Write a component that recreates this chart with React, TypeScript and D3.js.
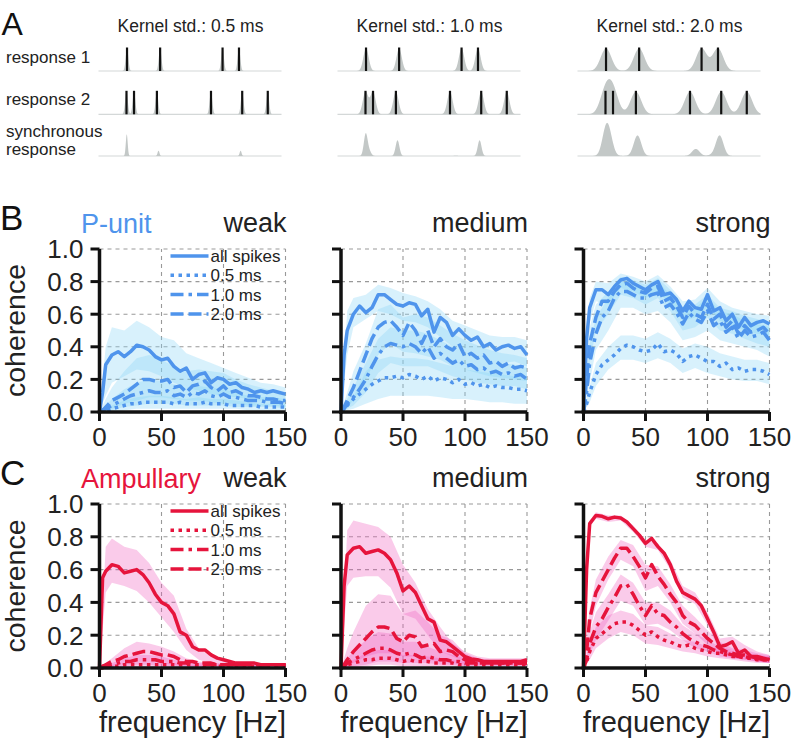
import React from 'react';
import * as d3 from 'd3';

// ---------- panel A: spike times (ms) ----------
const kernelStds = [0.5, 1.0, 2.0];
const spikes1 = [10.6, 22.9, 46.1, 52.2];
const spikes2 = [10.4, 13.2, 21.7, 41.8, 53.4, 62.9];
const rowLabels = [['response 1'], ['response 2'], ['synchronous', 'response']];

// ---------- coherence spectra ----------
const freqs = [0, 2.5, 5, 10, 15, 20, 25, 30, 35, 40, 45, 50, 55, 60, 65, 70, 75, 80, 85, 90, 95, 100, 105, 110, 115, 120, 125, 130, 135, 140, 145, 150];
const bandFreqs = [0, 5, 10, 20, 30, 40, 50, 60, 70, 80, 90, 100, 110, 120, 130, 140, 150];
const xTicks = [0, 50, 100, 150];
const yTicks = [0, 0.2, 0.4, 0.6, 0.8, 1.0];
const seriesLabels = ['all spikes', '0.5 ms', '1.0 ms', '2.0 ms'];
const strengths = ['weak', 'medium', 'strong'];

// P-unit, weak
const pWeakAll = [0, 0.12, 0.29, 0.35, 0.37, 0.34, 0.37, 0.41, 0.40, 0.38, 0.34, 0.32, 0.33, 0.28, 0.25, 0.27, 0.20, 0.23, 0.24, 0.18, 0.21, 0.20, 0.17, 0.18, 0.15, 0.14, 0.12, 0.13, 0.12, 0.13, 0.12, 0.11];
const pWeak05 = [0, 0.01, 0.01, 0.02, 0.03, 0.04, 0.05, 0.05, 0.06, 0.06, 0.06, 0.06, 0.06, 0.05, 0.06, 0.05, 0.05, 0.05, 0.06, 0.05, 0.05, 0.05, 0.04, 0.04, 0.04, 0.04, 0.04, 0.03, 0.03, 0.03, 0.03, 0.03];
const pWeak10 = [0, 0.01, 0.02, 0.04, 0.06, 0.08, 0.10, 0.11, 0.12, 0.13, 0.12, 0.12, 0.13, 0.10, 0.11, 0.09, 0.12, 0.11, 0.13, 0.10, 0.09, 0.11, 0.09, 0.09, 0.08, 0.07, 0.07, 0.07, 0.06, 0.06, 0.06, 0.05];
const pWeak20 = [0, 0.01, 0.03, 0.07, 0.09, 0.11, 0.14, 0.17, 0.20, 0.20, 0.19, 0.19, 0.20, 0.15, 0.16, 0.12, 0.16, 0.17, 0.19, 0.15, 0.13, 0.16, 0.12, 0.13, 0.11, 0.10, 0.10, 0.09, 0.08, 0.08, 0.07, 0.07];
const pWeakAllLo = [0, 0.10, 0.18, 0.22, 0.26, 0.25, 0.22, 0.18, 0.15, 0.13, 0.11, 0.10, 0.09, 0.08, 0.07, 0.07, 0.06];
const pWeakAllHi = [0, 0.40, 0.52, 0.50, 0.56, 0.52, 0.46, 0.44, 0.36, 0.33, 0.30, 0.27, 0.24, 0.21, 0.18, 0.17, 0.15];
const pWeak05Lo = [0, 0, 0, 0.01, 0.02, 0.02, 0.02, 0.02, 0.02, 0.02, 0.02, 0.02, 0.02, 0.01, 0.01, 0.01, 0.01];
const pWeak05Hi = [0, 0.02, 0.04, 0.07, 0.09, 0.10, 0.10, 0.09, 0.08, 0.09, 0.08, 0.08, 0.07, 0.06, 0.05, 0.05, 0.05];
const pWeak10Lo = [0, 0, 0.01, 0.03, 0.04, 0.05, 0.05, 0.05, 0.04, 0.04, 0.04, 0.04, 0.03, 0.03, 0.03, 0.03, 0.02];
const pWeak10Hi = [0, 0.04, 0.08, 0.14, 0.18, 0.20, 0.19, 0.17, 0.15, 0.16, 0.15, 0.14, 0.12, 0.10, 0.09, 0.09, 0.08];
const pWeak20Lo = [0, 0.01, 0.02, 0.05, 0.07, 0.09, 0.09, 0.08, 0.07, 0.07, 0.06, 0.05, 0.05, 0.04, 0.04, 0.04, 0.03];
const pWeak20Hi = [0, 0.08, 0.15, 0.25, 0.33, 0.35, 0.32, 0.28, 0.25, 0.26, 0.25, 0.24, 0.20, 0.17, 0.15, 0.13, 0.12];

// P-unit, medium
const pMedAll = [0, 0.35, 0.50, 0.60, 0.65, 0.61, 0.64, 0.72, 0.72, 0.69, 0.66, 0.65, 0.67, 0.66, 0.59, 0.63, 0.49, 0.58, 0.55, 0.47, 0.51, 0.47, 0.44, 0.46, 0.40, 0.42, 0.38, 0.40, 0.41, 0.39, 0.40, 0.35];
const pMed05 = [0, 0.02, 0.04, 0.08, 0.11, 0.14, 0.17, 0.19, 0.21, 0.21, 0.22, 0.21, 0.23, 0.22, 0.20, 0.22, 0.19, 0.21, 0.20, 0.18, 0.20, 0.17, 0.18, 0.16, 0.17, 0.15, 0.16, 0.15, 0.15, 0.14, 0.14, 0.13];
const pMed10 = [0, 0.02, 0.05, 0.09, 0.14, 0.20, 0.28, 0.35, 0.40, 0.42, 0.41, 0.40, 0.42, 0.40, 0.36, 0.40, 0.33, 0.36, 0.33, 0.30, 0.32, 0.28, 0.29, 0.26, 0.27, 0.24, 0.25, 0.23, 0.24, 0.22, 0.23, 0.20];
const pMed20 = [0, 0.03, 0.07, 0.15, 0.25, 0.35, 0.45, 0.52, 0.55, 0.56, 0.52, 0.47, 0.55, 0.50, 0.42, 0.50, 0.40, 0.45, 0.40, 0.38, 0.42, 0.34, 0.36, 0.33, 0.35, 0.30, 0.31, 0.28, 0.30, 0.27, 0.28, 0.27];
const pMedAllLo = [0, 0.35, 0.52, 0.57, 0.62, 0.60, 0.56, 0.55, 0.52, 0.46, 0.40, 0.37, 0.34, 0.32, 0.30, 0.31, 0.28];
const pMedAllHi = [0, 0.62, 0.70, 0.72, 0.78, 0.76, 0.73, 0.71, 0.68, 0.63, 0.56, 0.53, 0.50, 0.47, 0.46, 0.46, 0.44];
const pMed05Lo = [0, 0.01, 0.02, 0.05, 0.08, 0.10, 0.10, 0.10, 0.10, 0.09, 0.08, 0.08, 0.07, 0.06, 0.06, 0.05, 0.05];
const pMed05Hi = [0, 0.05, 0.09, 0.25, 0.32, 0.34, 0.33, 0.33, 0.32, 0.30, 0.28, 0.26, 0.25, 0.24, 0.23, 0.22, 0.21];
const pMed10Lo = [0, 0.02, 0.04, 0.12, 0.24, 0.30, 0.28, 0.28, 0.28, 0.25, 0.22, 0.20, 0.18, 0.17, 0.16, 0.16, 0.14];
const pMed10Hi = [0, 0.08, 0.15, 0.30, 0.45, 0.52, 0.50, 0.50, 0.48, 0.44, 0.40, 0.37, 0.34, 0.32, 0.30, 0.29, 0.27];
const pMed20Lo = [0, 0.03, 0.07, 0.20, 0.35, 0.42, 0.37, 0.36, 0.34, 0.32, 0.28, 0.26, 0.24, 0.22, 0.21, 0.20, 0.19];
const pMed20Hi = [0, 0.12, 0.25, 0.42, 0.63, 0.66, 0.58, 0.60, 0.58, 0.53, 0.48, 0.44, 0.41, 0.38, 0.36, 0.35, 0.33];

// P-unit, strong
const pStrAll = [0, 0.45, 0.64, 0.75, 0.75, 0.72, 0.77, 0.81, 0.82, 0.79, 0.77, 0.75, 0.78, 0.80, 0.72, 0.73, 0.69, 0.62, 0.68, 0.64, 0.63, 0.72, 0.62, 0.64, 0.56, 0.60, 0.52, 0.58, 0.53, 0.55, 0.56, 0.54];
const pStr05 = [0, 0.05, 0.12, 0.23, 0.29, 0.32, 0.35, 0.39, 0.41, 0.40, 0.38, 0.37, 0.38, 0.42, 0.37, 0.38, 0.36, 0.31, 0.34, 0.35, 0.33, 0.31, 0.31, 0.28, 0.30, 0.26, 0.27, 0.25, 0.26, 0.26, 0.25, 0.23];
const pStr10 = [0, 0.12, 0.30, 0.48, 0.58, 0.62, 0.70, 0.74, 0.74, 0.72, 0.70, 0.70, 0.72, 0.73, 0.64, 0.66, 0.61, 0.54, 0.61, 0.57, 0.55, 0.62, 0.53, 0.56, 0.49, 0.52, 0.45, 0.50, 0.46, 0.47, 0.49, 0.44];
const pStr20 = [0, 0.20, 0.42, 0.58, 0.68, 0.68, 0.74, 0.78, 0.79, 0.76, 0.74, 0.73, 0.76, 0.77, 0.68, 0.70, 0.65, 0.58, 0.65, 0.60, 0.58, 0.66, 0.57, 0.60, 0.52, 0.56, 0.48, 0.53, 0.49, 0.50, 0.52, 0.48];
const pStrAllLo = [0, 0.55, 0.68, 0.66, 0.76, 0.74, 0.70, 0.74, 0.66, 0.56, 0.58, 0.64, 0.56, 0.53, 0.50, 0.48, 0.47];
const pStrAllHi = [0, 0.70, 0.80, 0.79, 0.85, 0.83, 0.80, 0.84, 0.77, 0.68, 0.69, 0.76, 0.68, 0.64, 0.62, 0.60, 0.59];
const pStr05Lo = [0, 0.06, 0.16, 0.26, 0.32, 0.32, 0.30, 0.33, 0.30, 0.24, 0.27, 0.24, 0.22, 0.20, 0.19, 0.19, 0.17];
const pStr05Hi = [0, 0.16, 0.30, 0.40, 0.47, 0.47, 0.45, 0.49, 0.45, 0.39, 0.42, 0.40, 0.36, 0.34, 0.32, 0.32, 0.30];
const pStr10Lo = [0, 0.18, 0.38, 0.50, 0.64, 0.64, 0.60, 0.62, 0.55, 0.44, 0.46, 0.50, 0.44, 0.42, 0.40, 0.38, 0.34];
const pStr10Hi = [0, 0.42, 0.58, 0.70, 0.80, 0.78, 0.76, 0.80, 0.72, 0.62, 0.64, 0.70, 0.62, 0.60, 0.56, 0.54, 0.52];
const pStr20Lo = [0, 0.30, 0.50, 0.60, 0.72, 0.70, 0.66, 0.70, 0.62, 0.50, 0.52, 0.58, 0.50, 0.48, 0.45, 0.42, 0.40];
const pStr20Hi = [0, 0.52, 0.66, 0.74, 0.83, 0.81, 0.78, 0.82, 0.75, 0.64, 0.66, 0.72, 0.64, 0.62, 0.59, 0.57, 0.55];

// Ampullary, weak
const aWeakAll = [0, 0.55, 0.59, 0.63, 0.62, 0.58, 0.59, 0.60, 0.57, 0.52, 0.45, 0.40, 0.38, 0.33, 0.22, 0.20, 0.13, 0.11, 0.11, 0.08, 0.06, 0.05, 0.04, 0.03, 0.03, 0.03, 0.03, 0.02, 0.02, 0.02, 0.02, 0.02];
const aWeak05 = [0, 0, 0.01, 0.01, 0.01, 0.02, 0.02, 0.02, 0.02, 0.02, 0.02, 0.02, 0.02, 0.02, 0.02, 0.02, 0.02, 0.02, 0.01, 0.01, 0.01, 0.01, 0.01, 0.01, 0.01, 0.01, 0.01, 0.01, 0.01, 0.01, 0.01, 0.01];
const aWeak10 = [0, 0.01, 0.01, 0.02, 0.03, 0.04, 0.04, 0.05, 0.05, 0.05, 0.05, 0.04, 0.04, 0.04, 0.03, 0.03, 0.02, 0.02, 0.02, 0.02, 0.02, 0.02, 0.02, 0.02, 0.02, 0.02, 0.02, 0.02, 0.02, 0.02, 0.02, 0.02];
const aWeak20 = [0, 0.01, 0.02, 0.04, 0.05, 0.07, 0.08, 0.09, 0.10, 0.10, 0.09, 0.08, 0.08, 0.07, 0.05, 0.04, 0.04, 0.03, 0.03, 0.03, 0.02, 0.02, 0.02, 0.02, 0.02, 0.02, 0.02, 0.02, 0.02, 0.02, 0.02, 0.02];
const aWeakAllLo = [0, 0.46, 0.52, 0.50, 0.47, 0.40, 0.31, 0.22, 0.11, 0.05, 0.03, 0.02, 0.01, 0.01, 0.01, 0.01, 0.01];
const aWeakAllHi = [0, 0.74, 0.79, 0.74, 0.72, 0.64, 0.52, 0.44, 0.24, 0.12, 0.07, 0.05, 0.04, 0.03, 0.03, 0.03, 0.03];
const aWeak05Lo = [0, 0, 0, 0, 0, 0, 0, 0, 0, 0, 0, 0, 0, 0, 0, 0, 0];
const aWeak05Hi = [0, 0.01, 0.02, 0.03, 0.04, 0.04, 0.03, 0.03, 0.02, 0.02, 0.02, 0.02, 0.02, 0.02, 0.02, 0.02, 0.02];
const aWeak10Lo = [0, 0, 0, 0.01, 0.02, 0.02, 0.01, 0.01, 0.01, 0.01, 0.01, 0.01, 0.01, 0.01, 0.01, 0.01, 0.01];
const aWeak10Hi = [0, 0.02, 0.03, 0.06, 0.08, 0.08, 0.07, 0.05, 0.04, 0.03, 0.03, 0.02, 0.02, 0.02, 0.02, 0.02, 0.02];
const aWeak20Lo = [0, 0, 0.01, 0.03, 0.04, 0.04, 0.03, 0.02, 0.01, 0.01, 0.01, 0.01, 0.01, 0.01, 0.01, 0.01, 0.01];
const aWeak20Hi = [0, 0.03, 0.06, 0.12, 0.16, 0.15, 0.13, 0.10, 0.06, 0.04, 0.03, 0.03, 0.03, 0.02, 0.02, 0.02, 0.02];

// Ampullary, medium
const aMedAll = [0, 0.50, 0.69, 0.73, 0.74, 0.70, 0.71, 0.72, 0.70, 0.66, 0.58, 0.47, 0.50, 0.46, 0.38, 0.30, 0.28, 0.17, 0.16, 0.13, 0.10, 0.07, 0.055, 0.05, 0.04, 0.04, 0.04, 0.04, 0.04, 0.04, 0.04, 0.05];
const aMed05 = [0, 0.01, 0.02, 0.03, 0.04, 0.05, 0.05, 0.06, 0.06, 0.06, 0.05, 0.04, 0.05, 0.04, 0.04, 0.04, 0.03, 0.03, 0.03, 0.03, 0.02, 0.02, 0.02, 0.02, 0.02, 0.02, 0.02, 0.02, 0.02, 0.02, 0.02, 0.02];
const aMed10 = [0, 0.01, 0.03, 0.05, 0.07, 0.09, 0.11, 0.12, 0.12, 0.11, 0.09, 0.08, 0.09, 0.08, 0.06, 0.07, 0.06, 0.05, 0.05, 0.04, 0.04, 0.03, 0.03, 0.03, 0.03, 0.03, 0.03, 0.03, 0.03, 0.03, 0.03, 0.03];
const aMed20 = [0, 0.02, 0.05, 0.10, 0.14, 0.18, 0.22, 0.25, 0.25, 0.24, 0.18, 0.16, 0.20, 0.19, 0.13, 0.14, 0.15, 0.10, 0.11, 0.10, 0.07, 0.05, 0.04, 0.03, 0.03, 0.03, 0.03, 0.03, 0.03, 0.03, 0.03, 0.03];
const aMedAllLo = [0, 0.50, 0.55, 0.56, 0.56, 0.49, 0.33, 0.30, 0.20, 0.10, 0.07, 0.04, 0.03, 0.03, 0.03, 0.03, 0.03];
const aMedAllHi = [0, 0.84, 0.90, 0.88, 0.86, 0.80, 0.63, 0.52, 0.36, 0.25, 0.15, 0.10, 0.07, 0.06, 0.06, 0.06, 0.06];
const aMed05Lo = [0, 0, 0, 0.01, 0.02, 0.02, 0.01, 0.01, 0.01, 0.01, 0.01, 0.01, 0.01, 0.01, 0.01, 0.01, 0.01];
const aMed05Hi = [0, 0.03, 0.05, 0.09, 0.11, 0.11, 0.08, 0.08, 0.07, 0.06, 0.05, 0.04, 0.04, 0.03, 0.03, 0.03, 0.03];
const aMed10Lo = [0, 0, 0.01, 0.02, 0.04, 0.04, 0.03, 0.03, 0.03, 0.02, 0.02, 0.01, 0.01, 0.01, 0.01, 0.01, 0.01];
const aMed10Hi = [0, 0.06, 0.10, 0.17, 0.22, 0.21, 0.16, 0.16, 0.13, 0.10, 0.08, 0.06, 0.05, 0.05, 0.05, 0.05, 0.05];
const aMed20Lo = [0, 0.01, 0.03, 0.07, 0.09, 0.09, 0.07, 0.07, 0.05, 0.04, 0.03, 0.02, 0.02, 0.02, 0.02, 0.02, 0.02];
const aMed20Hi = [0, 0.12, 0.22, 0.38, 0.45, 0.44, 0.33, 0.35, 0.28, 0.20, 0.17, 0.09, 0.06, 0.05, 0.05, 0.05, 0.05];

// Ampullary, strong
const aStrAll = [0, 0.60, 0.88, 0.93, 0.925, 0.91, 0.92, 0.915, 0.89, 0.85, 0.81, 0.76, 0.79, 0.74, 0.70, 0.63, 0.53, 0.46, 0.44, 0.42, 0.38, 0.30, 0.22, 0.13, 0.14, 0.16, 0.09, 0.11, 0.07, 0.07, 0.06, 0.05];
const aStr05 = [0, 0.04, 0.10, 0.18, 0.21, 0.24, 0.27, 0.28, 0.28, 0.26, 0.23, 0.20, 0.22, 0.19, 0.17, 0.16, 0.14, 0.13, 0.14, 0.12, 0.11, 0.10, 0.09, 0.09, 0.08, 0.07, 0.07, 0.06, 0.06, 0.05, 0.05, 0.05];
const aStr10 = [0, 0.05, 0.15, 0.25, 0.30, 0.37, 0.43, 0.50, 0.51, 0.45, 0.38, 0.32, 0.38, 0.33, 0.32, 0.28, 0.25, 0.21, 0.18, 0.16, 0.14, 0.13, 0.11, 0.10, 0.09, 0.08, 0.07, 0.07, 0.06, 0.06, 0.05, 0.05];
const aStr20 = [0, 0.10, 0.30, 0.46, 0.53, 0.60, 0.67, 0.73, 0.73, 0.68, 0.62, 0.55, 0.63, 0.56, 0.51, 0.45, 0.40, 0.32, 0.28, 0.26, 0.22, 0.18, 0.15, 0.12, 0.10, 0.09, 0.08, 0.08, 0.07, 0.06, 0.06, 0.05];
const aStrAllLo = [0, 0.86, 0.91, 0.89, 0.90, 0.83, 0.74, 0.72, 0.60, 0.43, 0.39, 0.26, 0.10, 0.11, 0.07, 0.04, 0.03];
const aStrAllHi = [0, 0.90, 0.95, 0.93, 0.93, 0.87, 0.78, 0.76, 0.66, 0.50, 0.46, 0.34, 0.18, 0.19, 0.14, 0.10, 0.08];
const aStr05Lo = [0, 0.05, 0.12, 0.18, 0.22, 0.20, 0.15, 0.14, 0.12, 0.10, 0.09, 0.07, 0.06, 0.05, 0.04, 0.03, 0.03];
const aStr05Hi = [0, 0.15, 0.25, 0.32, 0.35, 0.33, 0.26, 0.25, 0.21, 0.17, 0.16, 0.13, 0.12, 0.10, 0.08, 0.07, 0.07];
const aStr10Lo = [0, 0.08, 0.17, 0.29, 0.41, 0.38, 0.26, 0.27, 0.23, 0.17, 0.12, 0.10, 0.07, 0.06, 0.05, 0.04, 0.03];
const aStr10Hi = [0, 0.22, 0.34, 0.45, 0.57, 0.52, 0.40, 0.40, 0.35, 0.26, 0.21, 0.17, 0.13, 0.11, 0.09, 0.08, 0.07];
const aStr20Lo = [0, 0.22, 0.38, 0.54, 0.66, 0.62, 0.47, 0.50, 0.40, 0.27, 0.21, 0.14, 0.09, 0.06, 0.05, 0.04, 0.03];
const aStr20Hi = [0, 0.36, 0.54, 0.68, 0.78, 0.75, 0.63, 0.62, 0.51, 0.38, 0.31, 0.23, 0.16, 0.12, 0.11, 0.09, 0.08];

const FONT = '"Liberation Sans", Arial, sans-serif';
const dashes = [null, '3.5,4.5', '13,5,3.5,5', '13,5'];

type Series = { line: number[]; lo: number[]; hi: number[] };

const rows = [
  {
    letter: 'B', name: 'P-unit', color: '#4f94ec', band: '#8ad3f7', top: 249, bottom: 412,
    panels: [
      [{ line: pWeakAll, lo: pWeakAllLo, hi: pWeakAllHi }, { line: pWeak05, lo: pWeak05Lo, hi: pWeak05Hi }, { line: pWeak10, lo: pWeak10Lo, hi: pWeak10Hi }, { line: pWeak20, lo: pWeak20Lo, hi: pWeak20Hi }],
      [{ line: pMedAll, lo: pMedAllLo, hi: pMedAllHi }, { line: pMed05, lo: pMed05Lo, hi: pMed05Hi }, { line: pMed10, lo: pMed10Lo, hi: pMed10Hi }, { line: pMed20, lo: pMed20Lo, hi: pMed20Hi }],
      [{ line: pStrAll, lo: pStrAllLo, hi: pStrAllHi }, { line: pStr05, lo: pStr05Lo, hi: pStr05Hi }, { line: pStr10, lo: pStr10Lo, hi: pStr10Hi }, { line: pStr20, lo: pStr20Lo, hi: pStr20Hi }],
    ] as Series[][],
  },
  {
    letter: 'C', name: 'Ampullary', color: '#e6143c', band: '#f060c0', top: 504, bottom: 668,
    panels: [
      [{ line: aWeakAll, lo: aWeakAllLo, hi: aWeakAllHi }, { line: aWeak05, lo: aWeak05Lo, hi: aWeak05Hi }, { line: aWeak10, lo: aWeak10Lo, hi: aWeak10Hi }, { line: aWeak20, lo: aWeak20Lo, hi: aWeak20Hi }],
      [{ line: aMedAll, lo: aMedAllLo, hi: aMedAllHi }, { line: aMed05, lo: aMed05Lo, hi: aMed05Hi }, { line: aMed10, lo: aMed10Lo, hi: aMed10Hi }, { line: aMed20, lo: aMed20Lo, hi: aMed20Hi }],
      [{ line: aStrAll, lo: aStrAllLo, hi: aStrAllHi }, { line: aStr05, lo: aStr05Lo, hi: aStr05Hi }, { line: aStr10, lo: aStr10Lo, hi: aStr10Hi }, { line: aStr20, lo: aStr20Lo, hi: aStr20Hi }],
    ] as Series[][],
  },
];

const colLeft = [99.5, 341, 583.5];
const colWidth = 186;

function CoherencePanel({ row, col, isBottom }: any) {
  const x = d3.scaleLinear().domain([0, 150]).range([colLeft[col], colLeft[col] + colWidth]);
  const y = d3.scaleLinear().domain([0, 1]).range([row.bottom, row.top]);
  const series: Series[] = row.panels[col];
  const line = d3.line<number>().x((_, i) => x(freqs[i])).y((d) => y(d));
  return (
    <g>
      {/* grid */}
      {yTicks.slice(1).map((t) => (
        <line key={'gy' + t} x1={x(0)} x2={x(150)} y1={y(t)} y2={y(t)} stroke="#999" strokeWidth={1.1} strokeDasharray="4,4" />
      ))}
      {xTicks.slice(1).map((t) => (
        <line key={'gx' + t} x1={x(t)} x2={x(t)} y1={y(0)} y2={y(1)} stroke="#999" strokeWidth={1.1} strokeDasharray="4,4" />
      ))}
      {/* bands */}
      {series.map((s, k) => {
        const a = d3.area<number>()
          .x((_, i) => x(bandFreqs[i]))
          .y0((_, i) => y(s.lo[i]))
          .y1((d) => y(d));
        return <path key={'b' + k} d={a(s.hi) || ''} fill={row.band} fillOpacity={0.33} stroke="none" />;
      })}
      {/* lines */}
      {[1, 2, 3, 0].map((k) => (
        <path key={'l' + k} d={line(series[k].line) || ''} fill="none" stroke={row.color} strokeWidth={3.5}
          strokeDasharray={dashes[k] || undefined} strokeLinejoin="round" />
      ))}
      {/* spines */}
      <line x1={x(0)} x2={x(0)} y1={y(0) + 1.75} y2={y(1)} stroke="#111" strokeWidth={3.5} />
      <line x1={x(0) - 1.75} x2={x(150)} y1={y(0)} y2={y(0)} stroke="#111" strokeWidth={3.5} />
      {yTicks.map((t) => (
        <line key={'ty' + t} x1={x(0) - 9} x2={x(0)} y1={y(t)} y2={y(t)} stroke="#111" strokeWidth={3} />
      ))}
      {xTicks.map((t) => (
        <line key={'tx' + t} x1={x(t)} x2={x(t)} y1={y(0)} y2={y(0) + 9} stroke="#111" strokeWidth={3} />
      ))}
      {xTicks.map((t) => (
        <text key={'lx' + t} x={x(t)} y={y(0) + 33.5} textAnchor="middle" fontSize={26} fill="#222">{t}</text>
      ))}
      {col === 0 && yTicks.map((t) => (
        <text key={'ly' + t} x={x(0) - 16} y={y(t)} dy="0.36em" textAnchor="end" fontSize={26} fill="#222">{t.toFixed(1)}</text>
      ))}
      {col === 0 && (
        <text transform={`translate(25,${(row.top + row.bottom) / 2}) rotate(-90)`} textAnchor="middle" fontSize={28.5} fill="#222">coherence</text>
      )}
      {isBottom && (
        <text x={x(75)} y={731.5} textAnchor="middle" fontSize={29} fill="#222">frequency [Hz]</text>
      )}
      <text x={x(150) + 1} y={row.top - 17} textAnchor="end" fontSize={27} fill="#222">{strengths[col]}</text>
      {col === 0 && (
        <g>
          {seriesLabels.map((lab, k) => {
            const yy = row.top + 7 + k * 19.3;
            return (
              <g key={'lg' + k}>
                <line x1={x(0) + 71} x2={x(0) + 109} y1={yy} y2={yy} stroke={row.color} strokeWidth={3.5} strokeDasharray={dashes[k] || undefined} />
                <text x={x(0) + 111} y={yy} dy="0.36em" fontSize={17} fill="#222">{lab}</text>
              </g>
            );
          })}
        </g>
      )}
    </g>
  );
}

function KernelPanel({ idx }: { idx: number }) {
  const x0 = [98.5, 337.5, 577.5][idx];
  const w = 183;
  const sigma = kernelStds[idx];
  const t = d3.scaleLinear().domain([0, 68]).range([x0, x0 + w]);
  const amp = 22.5;
  const bases = [71, 114.3, 156];
  const grid = d3.range(0, 68.01, 0.05);
  const conv = (sp: number[]) => (tt: number) => d3.sum(sp, (s) => Math.exp(-((tt - s) ** 2) / (2 * sigma * sigma)));
  const r1 = conv(spikes1);
  const r2 = conv(spikes2);
  const fns = [r1, r2, (tt: number) => r1(tt) * r2(tt)];
  return (
    <g>
      <text x={x0 + 19} y={32} fontSize={17.5} fill="#222">{`Kernel std.: ${sigma.toFixed(1)} ms`}</text>
      {fns.map((f, r) => {
        const area = d3.area<number>().x((d) => t(d)).y0(bases[r]).y1((d) => bases[r] - amp * f(d));
        return (
          <g key={r}>
            <line x1={x0} x2={x0 + w} y1={bases[r]} y2={bases[r]} stroke="#d4d8d8" strokeWidth={1.2} />
            <path d={area(grid) || ''} fill="#c3c8c7" />
          </g>
        );
      })}
      {[spikes1, spikes2].map((sp, r) => sp.map((s, k) => (
        <line key={r + '-' + k} x1={t(s)} x2={t(s)} y1={bases[r]} y2={bases[r] - 23.5} stroke="#111" strokeWidth={2.2} />
      )))}
    </g>
  );
}

export default function App() {
  const labelY = [[63], [105], [137, 155]];
  return (
    <svg width={793} height={738} style={{ position: 'absolute', left: 0, top: 0, background: '#fff' }} fontFamily={FONT}>
      <rect width={793} height={738} fill="#fff" />
      <text x={1.5} y={35} fontSize={32} fill="#111">A</text>
      {rowLabels.map((lines, r) => lines.map((l, k) => (
        <text key={r + '-' + k} x={6} y={labelY[r][k]} fontSize={17} fill="#222">{l}</text>
      )))}
      {[0, 1, 2].map((i) => <KernelPanel key={i} idx={i} />)}
      {rows.map((row, ri) => (
        <g key={row.letter}>
          <text x={0} y={row.top - 19} fontSize={35} fill="#111">{row.letter}</text>
          <text x={81} y={row.top - 16.5} fontSize={27} fill={row.color}>{row.name}</text>
          {[0, 1, 2].map((c) => <CoherencePanel key={c} row={row} col={c} isBottom={ri === 1} />)}
        </g>
      ))}
    </svg>
  );
}
